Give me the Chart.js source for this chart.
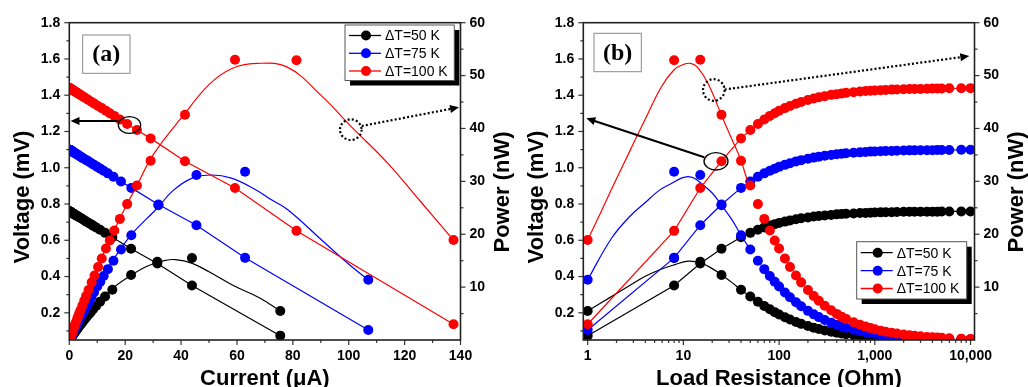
<!DOCTYPE html>
<html>
<head>
<meta charset="utf-8">
<script src="https://cdn.jsdelivr.net/npm/chart.js"></script>
<style>
  html, body { margin: 0; padding: 0; background: #fff; }
  #wrap { display: flex; width: 1028px; height: 387px; }
  .panel { position: relative; width: 514px; height: 387px; }
</style>
</head>
<body>
<div id="wrap">
  <div class="panel"><canvas id="chartA"></canvas></div>
  <div class="panel"><canvas id="chartB"></canvas></div>
</div>
<script>
// load resistance (Ohm) used for every measurement
const loadR = [1, 8, 15, 25, 40, 50, 60, 70, 80, 90, 100, 115, 130, 150, 170, 200, 230, 260, 300, 350, 400, 450, 500,
  600, 700, 800, 900, 1000, 1150, 1300, 1500, 1700, 2000, 2300, 2600, 3000, 3500, 4000, 4500, 5000, 6000, 8000, 10000];

// dT = 50 K
const volt50 = [0.074, 0.351, 0.472, 0.553, 0.617, 0.641, 0.658, 0.671, 0.681, 0.689, 0.695, 0.703, 0.709, 0.716, 0.721,
  0.726, 0.731, 0.734, 0.737, 0.740, 0.743, 0.745, 0.746, 0.748, 0.750, 0.751, 0.752, 0.753, 0.754, 0.755, 0.755, 0.756,
  0.757, 0.757, 0.757, 0.758, 0.758, 0.758, 0.758, 0.759, 0.759, 0.759, 0.759];
const curr50 = [75.5, 43.9, 31.5, 22.1, 15.4, 12.8, 11.0, 9.58, 8.51, 7.65, 6.95, 6.11, 5.46, 4.77, 4.24, 3.63, 3.18, 2.82,
  2.46, 2.12, 1.86, 1.65, 1.49, 1.25, 1.07, 0.94, 0.84, 0.75, 0.66, 0.58, 0.50, 0.44, 0.38, 0.33, 0.29, 0.25, 0.22, 0.19,
  0.17, 0.15, 0.13, 0.09, 0.08];
const pow50 = [5.5, 15.5, 14.8, 12.3, 9.5, 8.21, 7.22, 6.43, 5.80, 5.27, 4.83, 4.30, 3.87, 3.41, 3.05, 2.64, 2.32, 2.07,
  1.81, 1.57, 1.38, 1.23, 1.11, 0.93, 0.80, 0.71, 0.63, 0.57, 0.49, 0.44, 0.38, 0.34, 0.29, 0.25, 0.22, 0.19, 0.16, 0.14,
  0.13, 0.12, 0.10, 0.07, 0.06];

// dT = 75 K
const volt75 = [0.105, 0.503, 0.683, 0.797, 0.889, 0.924, 0.950, 0.969, 0.983, 0.995, 1.005, 1.016, 1.025, 1.035, 1.042,
  1.050, 1.056, 1.061, 1.066, 1.071, 1.075, 1.077, 1.080, 1.083, 1.085, 1.087, 1.089, 1.090, 1.091, 1.092, 1.093, 1.094,
  1.095, 1.096, 1.096, 1.097, 1.097, 1.097, 1.098, 1.098, 1.098, 1.099, 1.099];
const curr75 = [107.0, 62.9, 45.5, 31.9, 22.2, 18.5, 15.8, 13.8, 12.3, 11.1, 10.0, 8.84, 7.89, 6.90, 6.13, 5.25, 4.59,
  4.08, 3.55, 3.06, 2.69, 2.39, 2.16, 1.80, 1.55, 1.36, 1.21, 1.09, 0.95, 0.84, 0.73, 0.64, 0.55, 0.48, 0.42, 0.37, 0.31,
  0.27, 0.24, 0.22, 0.18, 0.14, 0.11];
const pow75 = [11.4, 31.8, 31.2, 25.5, 19.8, 17.1, 15.0, 13.4, 12.1, 11.0, 10.1, 8.98, 8.08, 7.13, 6.38, 5.51, 4.85, 4.33,
  3.79, 3.28, 2.89, 2.58, 2.33, 1.95, 1.68, 1.48, 1.32, 1.19, 1.04, 0.92, 0.80, 0.70, 0.60, 0.52, 0.46, 0.40, 0.34, 0.30,
  0.27, 0.24, 0.20, 0.15, 0.12];

// dT = 100 K
const volt100 = [0.137, 0.652, 0.888, 1.036, 1.162, 1.208, 1.241, 1.266, 1.286, 1.301, 1.314, 1.329, 1.341, 1.353, 1.363,
  1.374, 1.382, 1.389, 1.395, 1.402, 1.406, 1.410, 1.413, 1.417, 1.421, 1.423, 1.425, 1.426, 1.428, 1.429, 1.431, 1.432,
  1.433, 1.434, 1.435, 1.435, 1.436, 1.437, 1.437, 1.437, 1.438, 1.438, 1.439];
const curr100 = [137.5, 81.3, 59.3, 41.4, 29.1, 24.2, 20.7, 18.1, 16.1, 14.5, 13.1, 11.6, 10.3, 9.02, 8.02, 6.87, 6.01,
  5.34, 4.65, 4.00, 3.52, 3.13, 2.83, 2.36, 2.03, 1.78, 1.58, 1.43, 1.24, 1.10, 0.95, 0.84, 0.72, 0.62, 0.55, 0.48, 0.41,
  0.36, 0.32, 0.29, 0.24, 0.18, 0.14];
const pow100 = [18.9, 52.9, 53.0, 42.6, 33.9, 29.2, 25.7, 22.9, 20.7, 18.8, 17.3, 15.4, 13.8, 12.2, 10.9, 9.44, 8.31,
  7.42, 6.49, 5.61, 4.94, 4.42, 3.99, 3.35, 2.88, 2.53, 2.26, 2.03, 1.77, 1.57, 1.36, 1.21, 1.03, 0.89, 0.79, 0.69, 0.59,
  0.52, 0.46, 0.41, 0.34, 0.26, 0.21];

// fitted power curves, panel (a): current vs power
const fitCurA50 = [0, 5, 10, 16, 22, 28, 34, 38, 44, 50, 58.7, 68, 75.5];
const fitPowA50 = [0, 3.7, 7.0, 10.0, 12.2, 14.0, 15.0, 15.2, 14.5, 12.9, 10.3, 8.0, 5.5];
const fitCurA75 = [0, 5, 10, 15, 22, 31.8, 37, 44, 51, 58, 66.4, 72, 78.3, 90.3, 101, 107];
const fitPowA75 = [0, 5.4, 10.3, 14.6, 19.8, 25.1, 28.2, 30.6, 31.2, 30.6, 28.5, 26.6, 24.6, 18.9, 13.9, 11.4];
const fitCurA100 = [0, 5, 10, 15, 20, 24, 30, 41, 50, 58, 67, 78, 90, 101, 114, 126, 137.5];
const fitPowA100 = [0, 7.2, 13.7, 19.5, 25.0, 29.0, 35.0, 42.6, 48.3, 51.3, 52.3, 51.6, 46.3, 40.3, 33.4, 26.0, 18.9];

// fitted power curves, panel (b): load resistance vs power
const fitResB50 = [1, 1.77, 2.8, 3.95, 5.5, 8, 11.2, 15, 20, 25, 32, 40, 50];
const fitPowB50 = [5.5, 8.2, 10.4, 12.0, 13.2, 14.2, 14.9, 14.6, 13.5, 12.3, 10.9, 9.5, 8.2];
const fitResB75 = [1, 1.77, 2.8, 3.95, 5.5, 7.5, 9.5, 11.2, 13, 15.4, 20, 25, 32, 40, 50];
const fitPowB75 = [11.4, 19.2, 23.5, 25.9, 28.2, 29.6, 30.6, 30.9, 30.6, 29.6, 27.8, 25.5, 22.8, 19.8, 17.1];
const fitResB100 = [1, 1.4, 2, 2.8, 4, 5.9, 8, 10, 11.9, 14, 18.1, 25, 32, 39.5, 47.5];
const fitPowB100 = [18.9, 24.5, 30.5, 36.0, 41.8, 47.9, 51.1, 52.1, 52.3, 51.6, 48.5, 42.5, 38.0, 34.2, 29.6];

const seriesLabels = ["\u0394T=50 K", "\u0394T=75 K", "\u0394T=100 K"];
const seriesColors = ["#000000", "#0000ff", "#ff0000"];

// tick labels
const voltTicks = [0.2, 0.4, 0.6, 0.8, 1.0, 1.2, 1.4, 1.6, 1.8];
const powTicks = [10, 20, 30, 40, 50, 60];
const currTicks = [0, 20, 40, 60, 80, 100, 120, 140];
const resTicks = [1, 10, 100, 1000, 10000];

// minor tick positions
const voltMinor = voltTicks.map(v => v - 0.1);
const powMinor = powTicks.map(v => v - 5);
const currMinor = currTicks.slice(1).map(v => v - 10);
const resMinor = [];
[1, 10, 100, 1000].forEach(d => { for (let m = 2; m <= 9; m++) resMinor.push(m * d); });

const FONT = "Arial, 'Liberation Sans', sans-serif";

function xy(xs, ys) {
  return xs.map((x, i) => ({ x: x, y: ys[i] }));
}

function makeDatasets(xsList, volts, pows, fitX, fitY) {
  const sets = [];
  for (let k = 0; k < 3; k++) {
    const c = seriesColors[k];
    sets.push({
      data: xy(xsList[k], volts[k]), yAxisID: "y", showLine: true,
      borderColor: c, backgroundColor: c, borderWidth: 1.2,
      pointRadius: 5, pointBorderWidth: 0, order: 2 - k
    });
    sets.push({
      data: xy(xsList[k], pows[k]), yAxisID: "y1", showLine: false,
      borderColor: c, backgroundColor: c,
      pointRadius: 5, pointBorderWidth: 0, order: 2 - k
    });
    sets.push({
      data: xy(fitX[k], fitY[k]), yAxisID: "y1", showLine: true,
      borderColor: c, borderWidth: 1.2, pointRadius: 0,
      tension: 0.4, order: 2 - k
    });
  }
  return sets;
}

function tickMarks(ctx, scale, area, values, len) {
  values.forEach(v => {
    const p = scale.getPixelForValue(v);
    ctx.beginPath();
    if (scale.axis === "x") {
      ctx.moveTo(p, area.bottom); ctx.lineTo(p, area.bottom + len);
    } else if (scale.position === "left") {
      ctx.moveTo(area.left, p); ctx.lineTo(area.left - len, p);
    } else {
      ctx.moveTo(area.right, p); ctx.lineTo(area.right + len, p);
    }
    ctx.stroke();
  });
}

function arrowHead(ctx, x1, y1, x2, y2) {
  const ang = Math.atan2(y2 - y1, x2 - x1);
  const L = 9, W = 4;
  ctx.beginPath();
  ctx.moveTo(x2, y2);
  ctx.lineTo(x2 - L * Math.cos(ang) + W * Math.sin(ang), y2 - L * Math.sin(ang) - W * Math.cos(ang));
  ctx.lineTo(x2 - L * Math.cos(ang) - W * Math.sin(ang), y2 - L * Math.sin(ang) + W * Math.cos(ang));
  ctx.closePath();
  ctx.fill();
}

function drawPointer(ctx, p) {
  ctx.save();
  ctx.strokeStyle = "#000";
  ctx.fillStyle = "#000";
  if (p.dotted) { ctx.setLineDash([2, 2.2]); ctx.lineWidth = 2.2; } else { ctx.lineWidth = 1.3; }
  ctx.beginPath();
  ctx.ellipse(p.ex, p.ey, p.rx, p.ry, 0, 0, Math.PI * 2);
  ctx.stroke();
  if (!p.dotted) ctx.lineWidth = 2;
  const ang = Math.atan2(p.y2 - p.y1, p.x2 - p.x1);
  ctx.beginPath();
  ctx.moveTo(p.x1, p.y1);
  ctx.lineTo(p.x2 - 8 * Math.cos(ang), p.y2 - 8 * Math.sin(ang));
  ctx.stroke();
  ctx.setLineDash([]);
  arrowHead(ctx, p.x1, p.y1, p.x2, p.y2);
  ctx.restore();
}

function makeDecor(cfg) {
  return {
    id: "decor",
    afterDraw(chart) {
      const ctx = chart.ctx, a = chart.chartArea;
      const sx = chart.scales.x, sy = chart.scales.y, sy1 = chart.scales.y1;
      ctx.save();
      // tick marks
      ctx.strokeStyle = "#333";
      ctx.lineWidth = 1.2;
      tickMarks(ctx, sx, a, cfg.xMajor, 5);
      tickMarks(ctx, sx, a, cfg.xMinor, 3);
      tickMarks(ctx, sy, a, voltTicks, 5);
      tickMarks(ctx, sy, a, voltMinor, 3);
      tickMarks(ctx, sy1, a, powTicks, 5);
      tickMarks(ctx, sy1, a, powMinor, 3);
      // frame
      ctx.lineWidth = 1.6;
      ctx.strokeStyle = "#222";
      ctx.strokeRect(a.left, a.top, a.right - a.left, a.bottom - a.top);

      // axis titles
      ctx.fillStyle = "#000";
      ctx.font = "bold 22px " + FONT;
      ctx.textAlign = "center";
      ctx.textBaseline = "alphabetic";
      ctx.fillText(cfg.xTitle, (a.left + a.right) / 2, 385);
      ctx.save();
      ctx.translate(29, 197);
      ctx.rotate(-Math.PI / 2);
      ctx.fillText("Voltage (mV)", 0, 0);
      ctx.restore();
      ctx.save();
      ctx.translate(509, 192);
      ctx.rotate(-Math.PI / 2);
      ctx.fillText("Power (nW)", 0, 0);
      ctx.restore();

      // panel tag
      const b = cfg.tagBox;
      ctx.strokeStyle = "#8a8a8a";
      ctx.lineWidth = 1;
      ctx.strokeRect(b[0], b[1], b[2], b[3]);
      ctx.font = "bold 24px 'Times New Roman', 'Liberation Serif', serif";
      ctx.textBaseline = "middle";
      ctx.fillText(cfg.tag, b[0] + b[2] / 2, b[1] + b[3] / 2 + 1);

      // pointers
      cfg.pointers.forEach(p => drawPointer(ctx, p));

      // legend with shadow
      const lg = cfg.legend;
      ctx.fillStyle = "#000";
      ctx.fillRect(lg.x + 5, lg.y + 5, lg.w, lg.h);
      ctx.fillStyle = "#fff";
      ctx.fillRect(lg.x, lg.y, lg.w, lg.h);
      ctx.strokeStyle = "#555";
      ctx.lineWidth = 1;
      ctx.strokeRect(lg.x, lg.y, lg.w, lg.h);
      ctx.font = "14px " + FONT;
      ctx.textAlign = "left";
      ctx.textBaseline = "middle";
      seriesLabels.forEach((lab, k) => {
        const ry = lg.rows[k];
        ctx.strokeStyle = seriesColors[k];
        ctx.lineWidth = 1.3;
        ctx.beginPath();
        ctx.moveTo(lg.x + 4, ry);
        ctx.lineTo(lg.x + 36, ry);
        ctx.stroke();
        ctx.fillStyle = seriesColors[k];
        ctx.beginPath();
        ctx.arc(lg.x + 21, ry, 5, 0, Math.PI * 2);
        ctx.fill();
        ctx.fillStyle = "#000";
        ctx.fillText(lab, lg.x + 40, ry + 1);
      });
      ctx.restore();
    }
  };
}

function makeScales(xScale) {
  const tickFont = { family: FONT, size: 14, weight: "bold" };
  return {
    x: xScale,
    y: {
      position: "left", min: 0.05, max: 1.8,
      afterBuildTicks: s => { s.ticks = voltTicks.map(v => ({ value: v })); },
      afterFit: s => { s.width = 69.3; },
      grid: { display: false, drawTicks: false }, border: { display: false },
      ticks: { padding: 9, color: "#000", font: tickFont, autoSkip: false, callback: v => Number(v).toFixed(1) }
    },
    y1: {
      position: "right", min: 0, max: 60,
      afterBuildTicks: s => { s.ticks = powTicks.map(v => ({ value: v })); },
      afterFit: s => { s.width = 53.5; },
      grid: { display: false, drawTicks: false }, border: { display: false },
      ticks: { padding: 9, color: "#000", font: tickFont, autoSkip: false, callback: v => String(v) }
    }
  };
}

function makeChart(id, datasets, xScale, decor) {
  return new Chart(document.getElementById(id).getContext("2d"), {
    type: "scatter",
    data: { datasets: datasets },
    options: {
      responsive: true,
      maintainAspectRatio: false,
      animation: false,
      devicePixelRatio: 1,
      events: [],
      layout: { padding: { top: 22.7, left: 0, right: 0, bottom: 0 } },
      plugins: { legend: { display: false }, tooltip: { enabled: false } },
      scales: makeScales(xScale)
    },
    plugins: [makeDecor(decor)]
  });
}

const tickFontX = { family: FONT, size: 14, weight: "bold" };

// panel (a): current
makeChart("chartA",
  makeDatasets([curr50, curr75, curr100], [volt50, volt75, volt100], [pow50, pow75, pow100],
    [fitCurA50, fitCurA75, fitCurA100], [fitPowA50, fitPowA75, fitPowA100]),
  {
    type: "linear", min: 0, max: 140,
    afterBuildTicks: s => { s.ticks = currTicks.map(v => ({ value: v })); },
    afterFit: s => { s.height = 47; },
    grid: { display: false, drawTicks: false }, border: { display: false },
    ticks: { padding: 8, color: "#000", font: tickFontX, autoSkip: false, maxRotation: 0, callback: v => String(v) }
  },
  {
    xMajor: currTicks, xMinor: currMinor, xTitle: "Current (\u03bcA)", tag: "(a)",
    tagBox: [82.7, 35, 47.3, 38.3],
    legend: { x: 345, y: 25, w: 109.3, h: 55.5, rows: [35.5, 53.3, 71] },
    pointers: [
      { ex: 129.5, ey: 125, rx: 11.2, ry: 8.4, x1: 118.5, y1: 121, x2: 70.5, y2: 121, dotted: false },
      { ex: 350.8, ey: 129.7, rx: 10.8, ry: 10.3, x1: 361.7, y1: 126, x2: 459, y2: 107.3, dotted: true }
    ]
  });

// panel (b): load resistance
makeChart("chartB",
  makeDatasets([loadR, loadR, loadR], [volt50, volt75, volt100], [pow50, pow75, pow100],
    [fitResB50, fitResB75, fitResB100], [fitPowB50, fitPowB75, fitPowB100]),
  {
    type: "logarithmic", min: 0.9, max: 11000,
    afterBuildTicks: s => { s.ticks = resTicks.map(v => ({ value: v })); },
    afterFit: s => { s.height = 47; },
    grid: { display: false, drawTicks: false }, border: { display: false },
    ticks: { padding: 8, color: "#000", font: tickFontX, autoSkip: false, maxRotation: 0,
      callback: v => Number(v).toLocaleString("en-US") }
  },
  {
    xMajor: resTicks, xMinor: resMinor, xTitle: "Load Resistance (Ohm)", tag: "(b)",
    tagBox: [80, 33.3, 47.3, 38.4],
    legend: { x: 342.7, y: 241.7, w: 110, h: 57.3, rows: [252.7, 270.7, 288.5] },
    pointers: [
      { ex: 199.8, ey: 90, rx: 10.8, ry: 10.8, x1: 210.7, y1: 89.5, x2: 455.3, y2: 56, dotted: true },
      { ex: 202, ey: 161.3, rx: 12, ry: 8.7, x1: 190.2, y1: 157.3, x2: 72.3, y2: 118.3, dotted: false }
    ]
  });
</script>
</body>
</html>
